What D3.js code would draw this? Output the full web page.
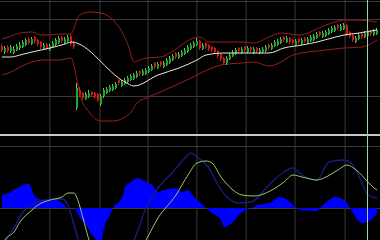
<!DOCTYPE html>
<html>
<head>
<meta charset="utf-8">
<script src="https://cdn.jsdelivr.net/npm/d3@7"></script>
<style>
html, body { margin:0; padding:0; background:#000; overflow:hidden; }
svg { display:block; }
</style>
</head>
<body>
<svg width="380" height="240"></svg>
<script>
// candles, price units (index = bar number)
const opens = [84,78,83,79,77,80,82, 83,85,91,86,93, 90,88,81,86,80, 83,85,87,93,87,89,94, 87,22,
	40,37,31,33,38,37,36,26, 34,37,39,40,42,50,44,46,48, 50,51,53,59,55,56, 58,60,67,62,68,63,
	65,67,70,77,72,74,76, 78,81,83,85,89, 81,87,85,83,82, 79,76,72,67,71, 74,76,82,77,83,78,83,77,
	82,77,78,79,85, 81,84,85,87,93,88, 92,90,85,91,86,92,87, 89,90,92,98,93,94, 96,98,99,105,100,101,
	105,98,95,88,91,96, 93,94,99,95,96];
const closes = [80,82,79,83,81,84,85, 88,90,87,91,89, 86,83,85,82,84, 87,90,92,89,91,93,86, 83,42,
	35,32,36,37,35,33,30,34, 40,41,43,44,46,47,48,50,52, 54,55,57,56,59,60, 62,64,63,66,65,67,
	70,72,74,73,76,78,80, 83,85,87,89,82, 85,83,81,80,78, 74,71,67,72,75, 78,80,79,81,80,82,80,81,
	79,80,81,83,82, 85,88,89,91,90,92, 88,87,89,88,90,89,91, 93,94,96,95,97,98, 100,102,103,102,104,105,
	96,94,90,92,95,93, 97,98,96,99,100];
const highs = [86,84,85,85,84,86,88, 90,92,93,93,94, 91,89,87,87,86, 89,92,94,94,93,95,96, 89,47,
	43,38,38,40,39,38,37,36, 42,43,45,46,48,51,50,52,54, 56,57,59,60,61,62, 64,66,68,68,69,69,
	72,74,76,78,78,80,82, 85,87,89,92,90, 87,88,86,84,83, 80,77,73,74,77, 80,82,83,83,84,84,84,83,
	83,82,83,85,86, 87,90,91,93,94,94, 93,91,91,92,92,93,93, 95,96,98,99,99,100, 102,104,105,106,106,107,
	106,99,96,94,97,97, 99,100,100,101,102];
const lows = [78,76,77,77,76,79,80, 82,84,85,85,87, 84,81,80,80,79, 82,84,86,87,86,88,84, 81,20,
	33,30,30,32,33,31,28,24, 32,36,38,39,41,45,43,45,47, 49,50,52,54,54,55, 57,59,61,61,63,62,
	64,66,69,71,71,73,75, 77,80,82,84,80, 80,81,79,78,76, 72,69,65,65,70, 73,75,77,76,78,77,78,76,
	77,76,77,78,80, 80,83,84,86,88,87, 86,85,84,86,85,87,86, 88,89,91,93,92,93, 95,97,98,100,99,100,
	94,92,88,87,90,91, 92,93,94,94,95];

// bollinger bands and middle average, [bar, price]
const upperBand = [[0,91],[3,94],[6,97],[10,98],[13,95],[16,95],[19,96],[23,96],[24,102],[25,111],[26,115],
	[29,118],[33,117],[37,110],[40,98],[42,85],[44,68],[46,70],[48,72],[53,73],[57,79],[63,91],[66,93],
	[69,88],[80,88],[84,87],[89,93],[93,97],[99,95],[108,105],[114,110],[118,110],[125,108]];
const lowerBand = [[0,55],[3,58],[6,63],[10,68],[14,70],[19,70],[23,72],[24,64],[25,50],[26,35],[29,18],
	[33,9],[37,9],[41,13],[43,18],[45,27],[48,32],[52,37],[58,45],[63,52],[67,58],[73,65],[80,67],[84,68],
	[89,64],[93,68],[97,75],[108,80],[114,82],[120,83],[125,90]];
const midBand = [[0,73],[3,73],[6,75],[10,78],[16,82],[21,86],[23,88],[41,48],[44,44],[52,55],[59,62],
	[65,70],[68,75],[74,77],[84,77],[89,77],[94,82],[100,85],[105,88],[110,92],[114,95],[119,97],[125,100]];

// oscillator panel, [bar, value]
const histo = [[0,13],[3,16],[5,20],[7,23],[9,24],[10,18],[11,11],[14,8],[18,8],[20,5],[22,0],[24,0],
	[26,-10],[28,-17],[30,-27],[33,-34],[34,-20],[36,-7],[37,0],[40,10],[41,21],[43,26],[45,30],[48,26],
	[50,23],[52,16],[54,18],[58,20],[60,16],[62,18],[64,11],[67,3],[68,0],[70,-5],[73,-12],[74,-19],
	[77,-14],[79,-7],[81,-2],[84,1],[85,3],[87,4],[90,6],[92,11],[94,10],[96,6],[98,0],[100,-2],[105,-3],
	[106,0],[109,8],[111,11],[114,8],[116,0],[117,-5],[120,-15],[123,-12],[125,-5]];
const signalLine = [[0,-40],[1,-32],[4,-24],[6,-14],[10,-2],[12,3],[16,8],[20,11],[22,15],[24,15],[25,10],
	[27,-10],[29,-32],[33,-52],[40,-57],[46,-42],[48,-32],[52,-10],[58,13],[62,33],[65,45],[68,47],[70,45],
	[73,31],[77,18],[80,13],[84,12],[90,18],[94,26],[97,33],[100,31],[105,28],[108,31],[112,38],[115,43],
	[118,38],[122,26],[124,20],[125,18]];
const fastLine = [[0,-37],[4,-20],[7,-4],[11,5],[15,8],[20,9],[22,3],[24,-17],[26,-37],[30,-55],[36,-65],
	[40,-55],[43,-37],[44,-32],[48,0],[52,20],[57,36],[61,50],[63,55],[65,51],[69,40],[72,23],[75,11],
	[79,5],[83,6],[89,23],[94,36],[97,40],[100,33],[105,28],[109,46],[114,48],[117,43],[120,25],[122,13],[125,10]];

// grid ticks
const timeTicks = [15.8, 32.5, 48.5, 64.8, 81.2, 97.5, 114.2];
const priceTicks = [34, 111, 129];
const oscTicks = [0, 62];
const cursorBar = 121.8;

const svg = d3.select("svg");
const width = 380, height = 240;
const topH = 134, lowTop = 137;

const x = d3.scaleLinear().domain([0, 125]).range([2, 377]);
const yPrice = d3.scaleLinear().domain([0, 130]).range([130, 0]);
const yOsc = d3.scaleLinear().domain([0, 62]).range([208, 146]);

svg.append("rect").attr("width", width).attr("height", height).attr("fill", "#000");

let defs = svg.append("defs");
defs.append("clipPath").attr("id", "clipTop")
	.append("rect").attr("x", 0).attr("y", 0).attr("width", width).attr("height", topH);
defs.append("clipPath").attr("id", "clipLow")
	.append("rect").attr("x", 0).attr("y", lowTop).attr("width", width).attr("height", height - lowTop);

const gridColour = "#3a3a3a";

// vertical grid, whole height
svg.append("g")
	.attr("transform", "translate(0," + height + ")")
	.call(d3.axisBottom(x).tickValues(timeTicks).tickSize(-height).tickFormat(""))
	.call(g => g.select(".domain").remove())
	.call(g => g.selectAll("line").attr("stroke", gridColour))
	;

let topPanel = svg.append("g").attr("clip-path", "url(#clipTop)");
let lowPanel = svg.append("g").attr("clip-path", "url(#clipLow)");

topPanel.append("g")
	.call(d3.axisLeft(yPrice).tickValues(priceTicks).tickSize(-width).tickFormat(""))
	.call(g => g.select(".domain").remove())
	.call(g => g.selectAll("line").attr("stroke", gridColour))
	;

lowPanel.append("g")
	.call(d3.axisLeft(yOsc).tickValues(oscTicks).tickSize(-width).tickFormat(""))
	.call(g => g.select(".domain").remove())
	.call(g => g.selectAll("line").attr("stroke", gridColour))
	;

let priceLine = d3.line()
	.x(function(d){ return x(d[0]); })
	.y(function(d){ return yPrice(d[1]); })
	.curve(d3.curveMonotoneX);

topPanel.selectAll("path.band")
	.data([upperBand, lowerBand])
	.enter().append("path")
		.attr("class", "band")
		.attr("d", priceLine)
		.attr("fill", "none")
		.attr("stroke", "#9a1c1c")
		.attr("stroke-width", 1)
	;

let bars = d3.range(closes.length);
let up = function(i){ return closes[i] >= opens[i]; };

topPanel.selectAll("line.wick")
	.data(bars)
	.enter().append("line")
		.attr("class", "wick")
		.attr("x1", function(i){ return Math.round(x(i)) - 0.5; })
		.attr("x2", function(i){ return Math.round(x(i)) - 0.5; })
		.attr("y1", function(i){ return yPrice(highs[i]); })
		.attr("y2", function(i){ return yPrice(lows[i]); })
		.attr("stroke", function(i){ return up(i) ? "#6cc06c" : "#c42020"; })
	;

topPanel.selectAll("rect.body")
	.data(bars)
	.enter().append("rect")
		.attr("class", "body")
		.attr("x", function(i){ return Math.round(x(i)) - 1; })
		.attr("width", 2)
		.attr("y", function(i){ return yPrice(Math.max(opens[i], closes[i])); })
		.attr("height", function(i){ return Math.max(1, Math.abs(yPrice(opens[i]) - yPrice(closes[i]))); })
		.attr("fill", function(i){ return up(i) ? "#1ea62a" : "#d01818"; })
	;

topPanel.append("path")
	.datum(midBand)
	.attr("d", priceLine)
	.attr("fill", "none")
	.attr("stroke", "#e8e8d8")
	.attr("stroke-width", 1)
	;

// lower panel
let oscArea = d3.area()
	.x(function(d){ return x(d[0]); })
	.y0(yOsc(0))
	.y1(function(d){ return yOsc(d[1]); })
	.curve(d3.curveMonotoneX);
let oscLine = d3.line()
	.x(function(d){ return x(d[0]); })
	.y(function(d){ return yOsc(d[1]); })
	.curve(d3.curveMonotoneX);

lowPanel.append("path")
	.datum(histo)
	.attr("d", oscArea)
	.attr("fill", "#0000ff")
	;

lowPanel.append("path")
	.datum(fastLine)
	.attr("d", oscLine)
	.attr("fill", "none")
	.attr("stroke", "#1a1a80")
	.attr("stroke-width", 1.4)
	;

lowPanel.append("path")
	.datum(signalLine)
	.attr("d", oscLine)
	.attr("fill", "none")
	.attr("stroke", "#98c86a")
	.attr("stroke-width", 1)
	;

// panel separator
svg.append("line")
	.attr("x1", 0).attr("x2", width)
	.attr("y1", 135).attr("y2", 135)
	.attr("stroke", "#c8c8c8")
	.attr("stroke-width", 2)
	;

// cursor
svg.append("line")
	.attr("x1", Math.round(x(cursorBar)) + 0.5).attr("x2", Math.round(x(cursorBar)) + 0.5)
	.attr("y1", 0).attr("y2", height)
	.attr("stroke", "#a0d0a0")
	.attr("stroke-width", 1)
	;
</script>
</body>
</html>
